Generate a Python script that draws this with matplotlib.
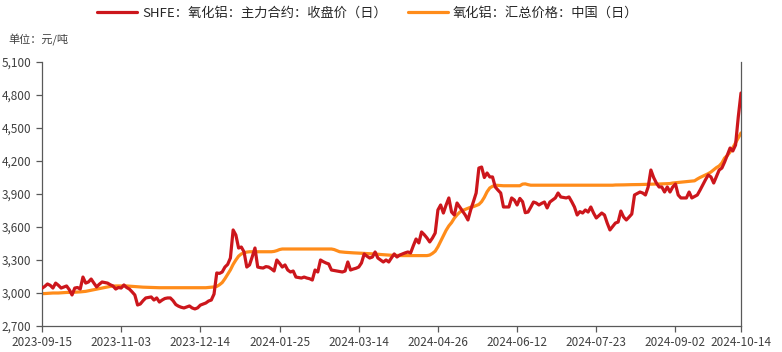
import matplotlib
matplotlib.use("Agg")
import matplotlib.pyplot as plt
from matplotlib.ticker import FuncFormatter

plt.rcParams["font.family"] = ["Noto Sans CJK SC", "DejaVu Sans"]

# x-axis: trading-day index, labelled every 29 sessions + last day
TICK_POS = [0, 29, 58, 87, 116, 145, 174, 203, 232, 256]
TICK_LABELS = ["2023-09-15", "2023-11-03", "2023-12-14", "2024-01-25", "2024-03-14",
               "2024-04-26", "2024-06-12", "2024-07-23", "2024-09-02", "2024-10-14"]

NAME_SHFE = "SHFE：氧化铝：主力合约：收盘价（日）"
NAME_SPOT = "氧化铝：汇总价格：中国（日）"

# SHFE alumina main contract close, yuan/t
shfe = [
    3043, 3060, 3082, 3070, 3045, 3090, 3070, 3045, 3055, 3064,
    3030, 2982, 3045, 3050, 3036, 3145, 3090, 3100, 3127, 3090,
    3055, 3080, 3100, 3095, 3090, 3075, 3064, 3036, 3050, 3045,
    3073, 3050, 3036, 3010, 2982, 2891, 2900, 2930, 2955, 2960,
    2964, 2936, 2955, 2918, 2936, 2950, 2955, 2955, 2930, 2895,
    2880, 2870, 2864, 2873, 2882, 2864, 2855, 2865, 2890, 2900,
    2909, 2927, 2936, 2990, 3182, 3178, 3191, 3236, 3260, 3318,
    3573, 3527, 3409, 3418, 3373, 3236, 3255, 3330, 3409, 3236,
    3230, 3227, 3240, 3236, 3220, 3200, 3300, 3270, 3236, 3255,
    3209, 3191, 3200, 3145, 3140, 3136, 3145, 3136, 3130, 3118,
    3209, 3191, 3300, 3285, 3273, 3264, 3209, 3205, 3200, 3195,
    3191, 3200, 3282, 3209, 3218, 3225, 3236, 3273, 3355, 3335,
    3318, 3327, 3373, 3318, 3300, 3282, 3300, 3282, 3320, 3355,
    3327, 3345, 3355, 3365, 3373, 3364, 3430, 3491, 3455, 3555,
    3530, 3500, 3464, 3500, 3545, 3755, 3800, 3727, 3800, 3864,
    3736, 3709, 3818, 3782, 3745, 3709, 3664, 3755, 3830, 3909,
    4136, 4145, 4050, 4091, 4055, 4055, 3964, 3935, 3909, 3782,
    3782, 3782, 3864, 3845, 3800, 3860, 3830, 3730, 3736, 3780,
    3827, 3818, 3800, 3815, 3827, 3773, 3827, 3845, 3864, 3909,
    3873, 3868, 3864, 3873, 3830, 3782, 3709, 3740, 3727, 3755,
    3736, 3782, 3727, 3682, 3705, 3727, 3709, 3636, 3573, 3605,
    3636, 3645, 3745, 3691, 3664, 3690, 3718, 3891, 3905, 3918,
    3909, 3891, 3964, 4118, 4050, 4000, 3964, 3964, 3918, 3964,
    3918, 3964, 3991, 3891, 3864, 3864, 3864, 3918, 3864, 3878,
    3891, 3935, 3982, 4030, 4073, 4055, 4000, 4060, 4118, 4136,
    4191, 4255, 4318, 4291, 4345, 4600, 4818,
]

# China alumina aggregate spot price, yuan/t
spot = [
    2995, 2995, 2997, 2998, 3000, 3000, 3000, 3002, 3003, 3005,
    3005, 3006, 3007, 3008, 3010, 3012, 3015, 3020, 3025, 3030,
    3035, 3040, 3045, 3050, 3055, 3060, 3062, 3064, 3064, 3064,
    3064, 3064, 3062, 3060, 3058, 3056, 3055, 3053, 3052, 3050,
    3050, 3048, 3048, 3048, 3048, 3048, 3048, 3048, 3048, 3048,
    3048, 3048, 3048, 3048, 3048, 3048, 3048, 3048, 3048, 3048,
    3048, 3050, 3052, 3055, 3060, 3075, 3095, 3130, 3170, 3210,
    3260, 3300, 3335, 3355, 3365, 3372, 3375, 3375, 3375, 3375,
    3375, 3375, 3375, 3375, 3375, 3378, 3385, 3395, 3400, 3400,
    3400, 3400, 3400, 3400, 3400, 3400, 3400, 3400, 3400, 3400,
    3400, 3400, 3400, 3400, 3400, 3400, 3400, 3395, 3385, 3375,
    3372, 3370, 3368, 3366, 3365, 3364, 3363, 3362, 3360, 3358,
    3357, 3356, 3355, 3352, 3350, 3348, 3346, 3345, 3343, 3342,
    3340, 3340, 3340, 3340, 3340, 3340, 3340, 3340, 3340, 3340,
    3340, 3340, 3345, 3360, 3380, 3420, 3470, 3520, 3570, 3610,
    3640, 3680, 3710, 3735, 3750, 3760, 3770, 3780, 3785, 3795,
    3805, 3830, 3870, 3920, 3955, 3970, 3980, 3978, 3975, 3975,
    3975, 3975, 3975, 3975, 3975, 3975, 3990, 3992, 3985, 3980,
    3980, 3980, 3980, 3980, 3980, 3980, 3980, 3980, 3980, 3980,
    3980, 3980, 3980, 3980, 3980, 3980, 3980, 3980, 3980, 3980,
    3980, 3980, 3980, 3980, 3980, 3980, 3980, 3980, 3980, 3980,
    3982, 3982, 3983, 3983, 3984, 3984, 3985, 3985, 3986, 3986,
    3987, 3988, 3988, 3989, 3990, 3990, 3991, 3992, 3993, 3994,
    3995, 4000, 4002, 4005, 4008, 4010, 4012, 4015, 4018, 4020,
    4036, 4050, 4062, 4073, 4085, 4100, 4120, 4140, 4155, 4182,
    4227, 4250, 4282, 4320, 4364, 4410, 4455,
]

C_RED = "#CC161C"
C_ORG = "#FF8C1A"
C_AX = "#595959"

fig = plt.figure(figsize=(7.82, 3.52), dpi=100)
ax = fig.add_axes([42 / 782, 1 - 326 / 352, 699 / 782, 264 / 352])

ax.plot(range(len(spot)), spot, color=C_ORG, lw=2.3, label=NAME_SPOT, zorder=2,
        solid_joinstyle="round", solid_capstyle="round")
ax.plot(range(len(shfe)), shfe, color=C_RED, lw=2.3, label=NAME_SHFE, zorder=3,
        solid_joinstyle="round", solid_capstyle="round")

ax.set_xlim(0, 256)
ax.set_ylim(2700, 5100)
ax.set_yticks(range(2700, 5101, 300))
ax.yaxis.set_major_formatter(FuncFormatter(lambda v, p: "{:,.0f}".format(v)))
ax.set_xticks(TICK_POS)
ax.set_xticklabels(TICK_LABELS)

for s in ("left", "bottom", "right"):
    ax.spines[s].set_color(C_AX)
    ax.spines[s].set_linewidth(0.9)
ax.spines["top"].set_visible(False)
ax.tick_params(axis="both", colors=C_AX, labelcolor="#404040", labelsize=8.5,
               length=4, width=0.9, direction="out")
ax.tick_params(axis="y", right=False)

fig.text(8 / 782, 1 - 40 / 352, "单位：元/吨", fontsize=8, color="#404040",
         va="center", ha="left")

h, l = ax.get_legend_handles_labels()
fig.legend(h[::-1], l[::-1], loc="center", bbox_to_anchor=(368 / 782, 1 - 13 / 352),
           ncol=2, frameon=False, fontsize=9.5, handlelength=3.0, columnspacing=1.6,
           handletextpad=0.4, labelcolor="#262626")

fig.savefig("out.png", dpi=100)
